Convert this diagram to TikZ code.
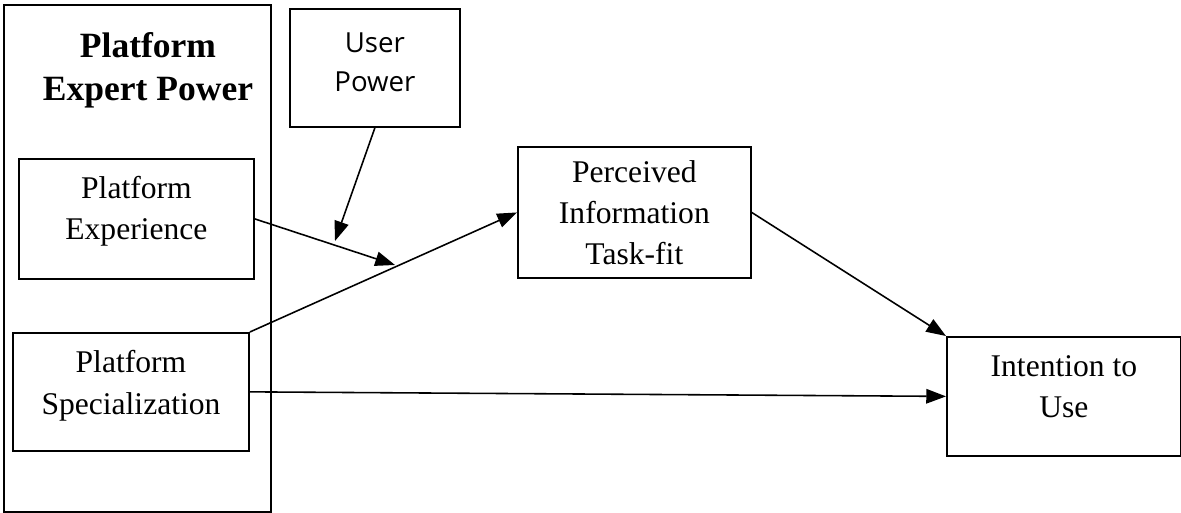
\documentclass[tikz,border=0pt]{standalone}
\usepackage{fontspec}
\setmainfont{Liberation Serif}
\newfontfamily\uifont{Open Sans}
\usetikzlibrary{arrows.meta}
\tikzset{
	box/.style={draw, line width=0.7pt, anchor=north west, align=center, inner sep=2pt, font=\fontsize{12}{15.6}\selectfont},
	link/.style={-{Triangle[length=7.5pt, width=5.5pt]}, line width=0.6pt},
}
\begin{document}
\begin{tikzpicture}[x=0.38pt, y=-0.38pt]
	\useasboundingbox (0,0) rectangle (1181,513);
	\coordinate (jn) at (395,265);
	\coordinate (mod) at (335,241);
	\node [box, minimum width=101.5pt, minimum height=192.7pt] (pep) at (3,4) {};
	\node [font=\fontsize{13.5}{16.3}\selectfont\bfseries, align=center] (title) at (148,70) {Platform\\Expert Power};
	\node [box, minimum width=64.6pt, minimum height=44.8pt, font=\uifont\fontsize{10.5}{14.8}\selectfont, text depth=4pt] (up) at (289,8) {User\\Power};
	\node [box, minimum width=89.3pt, minimum height=45.6pt, text depth=8.6pt] (pe) at (18,158) {Platform\\Experience};
	\node [box, minimum width=89.7pt, minimum height=44.8pt, text depth=7.2pt] (ps) at (12,332) {Platform\\Specialization};
	\node [box, minimum width=88.5pt, minimum height=49.8pt] (pit) at (517,146) {Perceived\\Information\\Task-fit};
	\node [box, minimum width=88.9pt, minimum height=45.2pt, text depth=7.6pt] (iu) at (946,336) {Intention to\\Use};
	\draw [link] (pe.east) -- (jn);
	\draw [link] (up.south) -- (mod);
	\draw [link] (ps.north east) -- (pit.west);
	\draw [link] (pit.east) -- (iu.north west);
	\draw [link] (ps.east) -- (iu.west);
\end{tikzpicture}
\end{document}
